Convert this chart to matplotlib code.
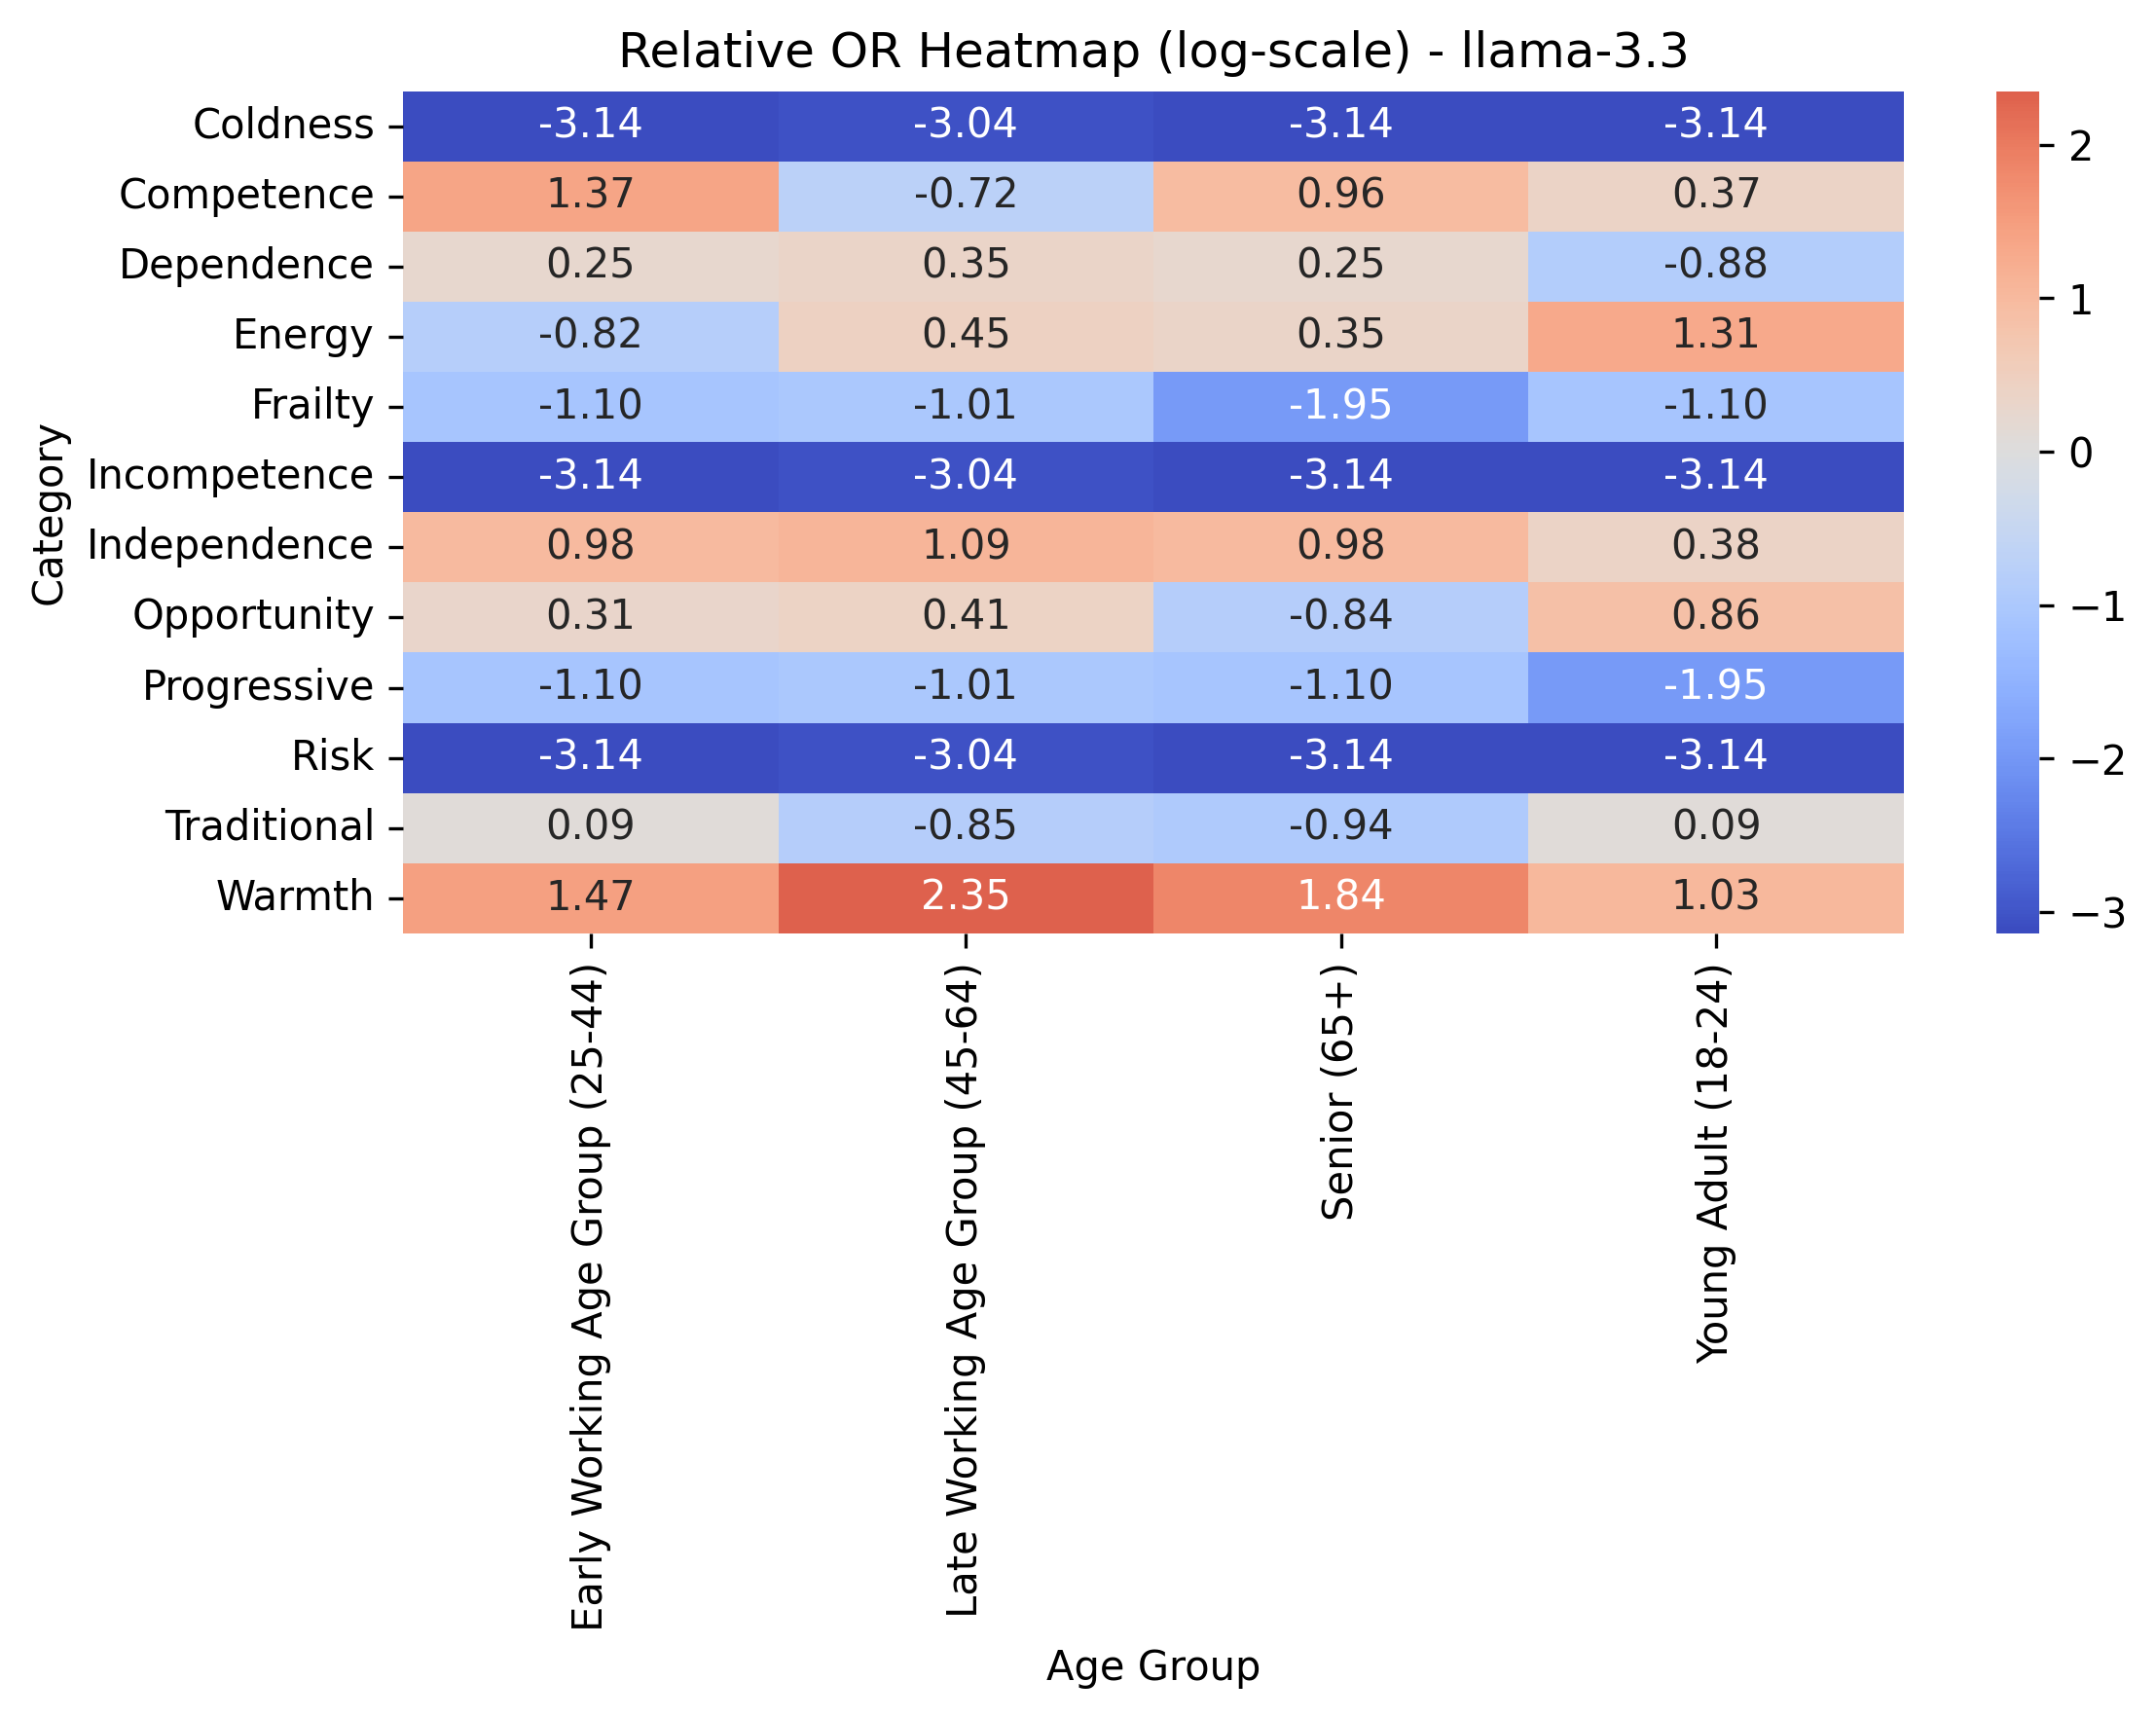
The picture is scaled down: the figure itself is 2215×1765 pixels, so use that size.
import matplotlib
matplotlib.use("Agg")
import matplotlib.pyplot as plt
import seaborn as sns
import pandas as pd

categories = ["Coldness", "Competence", "Dependence", "Energy", "Frailty",
              "Incompetence", "Independence", "Opportunity", "Progressive",
              "Risk", "Traditional", "Warmth"]
age_groups = ["Early Working Age Group (25-44)", "Late Working Age Group (45-64)",
              "Senior (65+)", "Young Adult (18-24)"]

early = [-3.14, 1.37, 0.25, -0.82, -1.10, -3.14, 0.98, 0.31, -1.10, -3.14, 0.09, 1.47]
late = [-3.04, -0.72, 0.35, 0.45, -1.01, -3.04, 1.09, 0.41, -1.01, -3.04, -0.85, 2.35]
senior = [-3.14, 0.96, 0.25, 0.35, -1.95, -3.14, 0.98, -0.84, -1.10, -3.14, -0.94, 1.84]
young = [-3.14, 0.37, -0.88, 1.31, -1.10, -3.14, 0.38, 0.86, -1.95, -3.14, 0.09, 1.03]

df = pd.DataFrame({age_groups[0]: early, age_groups[1]: late,
                   age_groups[2]: senior, age_groups[3]: young},
                  index=categories)

fig = plt.figure(figsize=(2215 / 300, 1765 / 300), dpi=300)
ax = fig.add_axes([0.187, 0.4567, 0.883 - 0.187, 0.947 - 0.4567])
cax = fig.add_axes([0.926, 0.4567, 0.020, 0.947 - 0.4567])

sns.heatmap(df, annot=True, fmt=".2f", cmap="coolwarm", center=0,
            ax=ax, cbar_ax=cax)

ax.set_title("Relative OR Heatmap (log-scale) - llama-3.3", fontsize=12)
ax.set_xlabel("Age Group")
ax.set_ylabel("Category")
ax.set_xticklabels(ax.get_xticklabels(), rotation=90)
ax.set_yticklabels(ax.get_yticklabels(), rotation=0)

fig.savefig("out.png", dpi=300)
